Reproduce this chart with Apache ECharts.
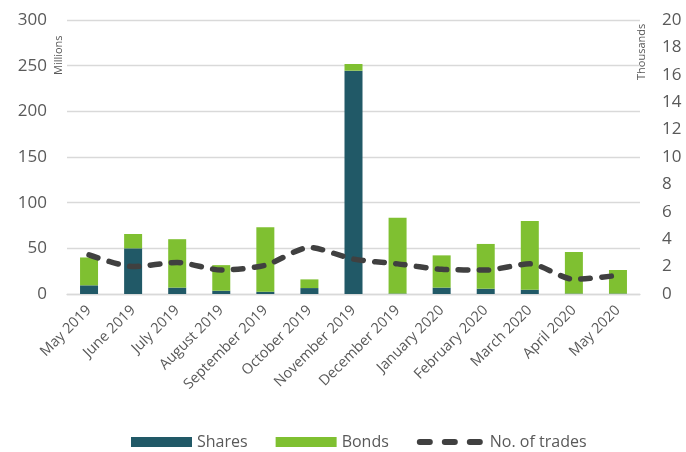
<!DOCTYPE html>
<html>
<head>
<meta charset="utf-8">
<script src="https://cdn.jsdelivr.net/npm/echarts@6/dist/echarts.min.js"></script>
<style>
  html, body { margin: 0; padding: 0; background: #fff; }
  #chart { width: 686px; height: 452px; }
</style>
</head>
<body>
<div id="chart"></div>
<script>
// months on the x axis
const months = ["May 2019", "June 2019", "July 2019", "August 2019", "September 2019", "October 2019",
  "November 2019", "December 2019", "January 2020", "February 2020", "March 2020", "April 2020", "May 2020"];
// millions
const shares = [9.5, 50, 7, 3.6, 2.5, 6.5, 244.5, 0.5, 7, 5.8, 4.7, 0.5, 0.5];
const bonds = [30.5, 15.7, 53, 28, 70.5, 9.5, 7.3, 83, 35.3, 49, 75.3, 45.5, 25.8];
// thousands
const trades = [2.85, 2.0, 2.3, 1.75, 2.1, 3.4, 2.55, 2.2, 1.8, 1.75, 2.2, 1.07, 1.36];

const font = "'Open Sans', 'Noto Sans', sans-serif";
const grey = "#595959";
const dash = [9.5, 11.5];

const myChart = echarts.init(document.getElementById("chart"), null, { renderer: "canvas" });

myChart.setOption({
  animation: false,
  textStyle: { fontFamily: font },
  grid: { left: 67, right: 46, top: 20, bottom: 158 },
  legend: {
    top: 429,
    left: 126,
    itemGap: 28,
    itemWidth: 61,
    itemHeight: 10,
    textStyle: { fontSize: 16, color: grey, fontFamily: font },
    data: [
      { name: "Shares", icon: "rect" },
      { name: "Bonds", icon: "rect" },
      {
        name: "No. of trades",
        itemStyle: { opacity: 0 },
        lineStyle: { color: "#404040", width: 6, type: [10, 15], cap: "round" },
        textStyle: { padding: [0, 0, 0, 4] }
      }
    ]
  },
  xAxis: {
    type: "category",
    data: months,
    axisTick: { show: false },
    axisLine: { lineStyle: { color: "#d9d9d9", width: 1.3 } },
    axisLabel: { interval: 0, rotate: 45, fontSize: 14.5, color: grey, margin: 14 }
  },
  yAxis: [
    {
      type: "value",
      min: 0, max: 300, interval: 50,
      axisLabel: { fontSize: 17, color: grey, margin: 20 },
      splitLine: { lineStyle: { color: "#d9d9d9", width: 1.3 } },
      axisLine: { show: false },
      axisTick: { show: false }
    },
    {
      type: "value",
      min: 0, max: 20, interval: 2,
      axisLabel: { fontSize: 17, color: grey, margin: 22 },
      splitLine: { show: false },
      axisLine: { show: false },
      axisTick: { show: false }
    }
  ],
  graphic: [
    {
      type: "text", x: 53, y: 75, rotation: Math.PI / 2,
      style: { text: "Millions", fontSize: 11, fill: grey, fontFamily: font }
    },
    {
      type: "text", x: 636, y: 80, rotation: Math.PI / 2,
      style: { text: "Thousands", fontSize: 11, fill: grey, fontFamily: font }
    }
  ],
  series: [
    {
      name: "Shares", type: "bar", stack: "total", data: shares, barWidth: 18,
      itemStyle: { color: "#215967" }
    },
    {
      name: "Bonds", type: "bar", stack: "total", data: bonds, barWidth: 18,
      itemStyle: { color: "#7fc031" }
    },
    {
      name: "No. of trades", type: "line", yAxisIndex: 1, data: trades,
      smooth: 0.25, symbol: "none",
      lineStyle: { color: "#404040", width: 5.5, type: dash, cap: "round" },
      itemStyle: { color: "#404040" }
    }
  ]
});
</script>
</body>
</html>
